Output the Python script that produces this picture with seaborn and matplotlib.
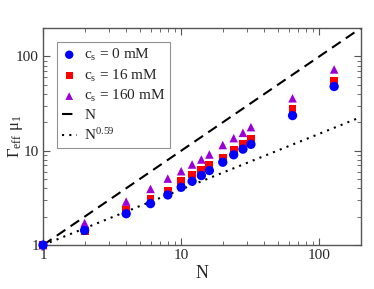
import numpy as np
import pandas as pd
import matplotlib
matplotlib.use("Agg")
import matplotlib.pyplot as plt
import seaborn as sns
from matplotlib.ticker import LogLocator, NullFormatter, FixedLocator, FixedFormatter

# chain lengths
n_vals = [1, 2, 4, 6, 8, 10, 12, 14, 16, 20, 24, 28, 32, 64, 128]

# Gamma_eff mu_1 for the three salt concentrations
g_cs0 = [1.0, 1.43, 2.15, 2.75, 3.4, 4.1, 4.75, 5.46, 6.17, 7.56, 9.06, 10.4, 11.7, 23.6, 48.0]
g_cs16 = [1.0, 1.40, 2.37, 3.09, 3.78, 4.75, 5.6, 6.2, 7.0, 8.43, 10.2, 11.8, 13.5, 28.0, 54.6]
g_cs160 = [1.0, 1.71, 2.89, 3.94, 5.07, 6.07, 7.15, 8.08, 9.13, 11.5, 13.6, 15.5, 17.8, 36.0, 72.8]

labels = ["c$_{\\mathrm{s}}$ = 0 mM", "c$_{\\mathrm{s}}$ = 16 mM", "c$_{\\mathrm{s}}$ = 160 mM"]
exponent = 0.59

sns.set_style("ticks")
plt.rcParams['font.family'] = ['Liberation Serif', 'DejaVu Serif']
plt.rcParams['mathtext.fontset'] = 'custom'
plt.rcParams['mathtext.rm'] = 'Liberation Serif'
plt.rcParams['mathtext.it'] = 'Liberation Serif:italic'

df = pd.DataFrame({
    "N": n_vals * 3,
    "G": g_cs0 + g_cs16 + g_cs160,
    "series": [labels[0]] * len(n_vals) + [labels[1]] * len(n_vals) + [labels[2]] * len(n_vals),
})

fig = plt.figure(figsize=(3.74, 2.89), dpi=100)
ax = fig.add_axes([0.115, 0.152, 0.85, 0.751])

n_line = np.array([1, 200])
ax.plot(n_line, n_line, color="black", ls=(0, (5, 3)), lw=1.5, label="N", zorder=1)
ax.plot(n_line, n_line ** exponent, color="black", ls=(0, (1, 2.5)), lw=1.5,
        label="N$^{0.59}$", zorder=1)

colors = {labels[0]: "#0000ff", labels[1]: "#ff0000", labels[2]: "#9a00d6"}
markers = {labels[0]: "o", labels[1]: "s", labels[2]: "^"}
sizes = {labels[0]: 45, labels[1]: 32, labels[2]: 38}
zorders = {labels[0]: 5, labels[1]: 4, labels[2]: 3}
for lab in labels:
    sub = df[df["series"] == lab]
    sns.scatterplot(data=sub, x="N", y="G", color=colors[lab], marker=markers[lab],
                    s=sizes[lab], edgecolor="none", ax=ax, label=lab,
                    zorder=zorders[lab], clip_on=False)

ax.set_xscale("log")
ax.set_yscale("log")
ax.set_xlim(1, 200)
ax.set_ylim(1, 200)

for axis in (ax.xaxis, ax.yaxis):
    axis.set_major_locator(FixedLocator([1, 10, 100]))
    axis.set_major_formatter(FixedFormatter(["1", "10", "100"]))
    axis.set_minor_locator(LogLocator(base=10, subs=np.arange(2, 10), numticks=20))
    axis.set_minor_formatter(NullFormatter())

ax.tick_params(which="both", direction="in", top=True, right=True, labelsize=11,
               color="#555555", pad=3)
ax.tick_params(which="major", length=5, width=0.8)
ax.tick_params(which="minor", length=3, width=0.6)
for sp in ax.spines.values():
    sp.set_color("#555555")
    sp.set_linewidth(1.0)

ax.set_xlabel("N", fontsize=13, labelpad=2)
ax.set_ylabel("")
# y label placed by hand so it stays inside the figure
ax.text(-0.088, 0.5, "Γ$_{\\mathrm{eff}}$ μ$_1$", fontsize=12, rotation=90,
        ha="center", va="center", transform=ax.transAxes)

handles, labs = ax.get_legend_handles_labels()
order = [labs.index(l) for l in labels + ["N", "N$^{0.59}$"]]
leg = ax.legend([handles[i] for i in order], [labs[i] for i in order],
                loc="upper left", bbox_to_anchor=(0.044, 0.935), fontsize=11,
                frameon=True, fancybox=False, edgecolor="#777777",
                handlelength=1.0, handletextpad=0.5, borderpad=0.3,
                labelspacing=0.3, borderaxespad=0, markerscale=0.9)
leg.get_frame().set_linewidth(0.8)

fig.savefig("out.png", dpi=100)
